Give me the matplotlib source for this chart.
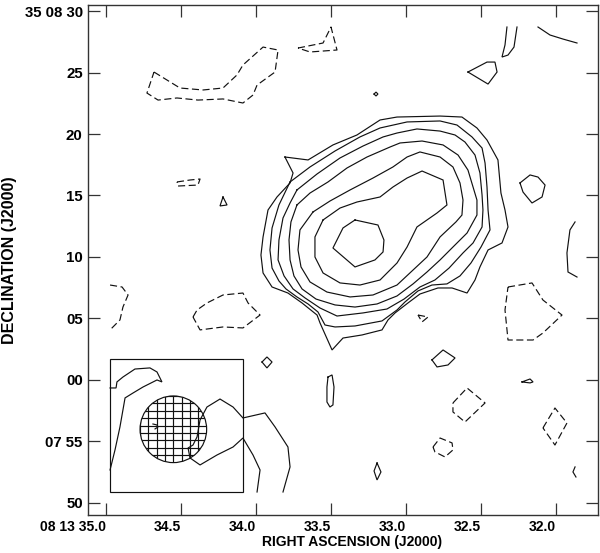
import numpy as np
import matplotlib
matplotlib.use("Agg")
from matplotlib import pyplot as plt
from matplotlib.patches import Ellipse, Rectangle

# RA in seconds of 08 13 xx, Dec in arcsec offset from +08 00 00

# source contours, outermost level first
L1_ra = [33.807, 33.653, 33.487, 33.327, 33.173, 33.060, 32.773, 32.627, 32.527, 32.460,
         32.387, 32.367, 32.340, 32.320, 32.360, 32.453, 32.507, 32.540, 32.593, 32.693,
         32.787, 32.907, 32.987, 33.073, 33.120, 33.160, 33.293, 33.420, 33.493, 33.573,
         33.593, 33.693, 33.787, 33.893, 33.953, 33.967, 33.953, 33.920, 33.860, 33.773,
         33.753]
L1_dec = [18.13, 17.89, 19.11, 19.92, 21.14, 21.38, 21.46, 21.38, 20.49, 19.51,
          17.89, 15.20, 13.82, 12.44, 11.14, 10.57, 9.19, 8.13, 7.07, 7.48,
          7.48, 6.99, 6.26, 5.45, 4.88, 4.07, 3.66, 3.41, 2.44, 4.63,
          5.28, 6.26, 7.07, 7.56, 8.70, 10.16, 11.63, 13.82, 14.88, 16.02,
          16.83]

L2_ra = [33.773, 33.640, 33.473, 33.307, 33.173, 32.993, 32.773, 32.660, 32.560, 32.493,
         32.473, 32.460, 32.453, 32.440, 32.500, 32.567, 32.640, 32.727, 32.827, 32.920,
         33.007, 33.060, 33.160, 33.340, 33.473, 33.540, 33.587, 33.653, 33.727, 33.800,
         33.847, 33.893, 33.907, 33.893, 33.847]
L2_dec = [16.10, 17.32, 18.62, 19.76, 20.49, 20.98, 21.06, 20.73, 19.76, 18.86,
          17.64, 15.69, 13.82, 12.20, 10.81, 9.51, 8.46, 7.81, 7.72, 7.24,
          6.34, 5.69, 4.80, 4.39, 4.31, 4.47, 5.53, 6.18, 6.75, 7.40,
          8.05, 9.10, 10.57, 12.36, 14.23]

L3_ra = [33.727, 33.593, 33.440, 33.287, 33.153, 33.060, 32.927, 32.773, 32.673, 32.607,
         32.540, 32.507, 32.493, 32.487, 32.493, 32.553, 32.620, 32.713, 32.807, 32.907,
         33.013, 33.127, 33.287, 33.460, 33.573, 33.673, 33.753, 33.813, 33.853, 33.847,
         33.820, 33.773]
L3_dec = [15.45, 16.75, 18.05, 19.02, 19.76, 20.08, 20.41, 20.24, 19.92, 19.35,
          18.29, 16.83, 15.04, 13.82, 12.44, 11.14, 10.33, 9.10, 8.13, 7.56,
          6.58, 5.77, 5.45, 5.20, 5.85, 6.67, 7.40, 8.46, 9.76, 11.38,
          13.17, 14.39]

L4_ra = [33.727, 33.640, 33.520, 33.393, 33.260, 33.107, 33.040, 32.893, 32.753, 32.653,
         32.587, 32.553, 32.527, 32.527, 32.593, 32.687, 32.773, 32.860, 32.953, 33.060,
         33.193, 33.340, 33.473, 33.600, 33.693, 33.747, 33.773, 33.780, 33.767]
L4_dec = [14.23, 15.20, 16.10, 17.24, 18.13, 18.94, 19.27, 19.43, 19.11, 18.29,
          17.07, 15.69, 14.63, 13.41, 11.95, 10.81, 9.76, 8.78, 7.81, 6.83,
          6.18, 5.93, 6.10, 6.58, 7.40, 8.46, 9.76, 11.38, 12.85]

L5_ra = [33.620, 33.507, 33.373, 33.220, 33.087, 32.993, 32.907, 32.773, 32.687, 32.640,
         32.620, 32.627, 32.667, 32.773, 32.860, 32.953, 33.060, 33.220, 33.373, 33.527,
         33.640, 33.700, 33.720, 33.707]
L5_dec = [13.66, 14.55, 15.45, 16.42, 17.32, 18.13, 18.54, 18.13, 17.32, 16.02,
          14.63, 13.41, 12.85, 11.63, 10.00, 8.94, 7.72, 6.91, 6.75, 7.15,
          7.97, 9.19, 10.57, 12.20]

L6_ra = [33.553, 33.440, 33.327, 33.173, 33.087, 32.993, 32.893, 32.753, 32.727, 32.793,
         32.927, 32.993, 33.060, 33.173, 33.307, 33.440, 33.553, 33.607, 33.607]
L6_dec = [13.01, 13.98, 14.47, 14.88, 15.69, 16.42, 16.99, 16.26, 14.23, 13.58,
          12.44, 10.81, 9.51, 8.13, 7.72, 7.89, 8.70, 10.00, 11.63]

L7_ra = [33.340, 33.187, 33.147, 33.153, 33.207, 33.340, 33.487, 33.420]
L7_dec = [13.01, 12.60, 11.38, 10.41, 9.76, 9.19, 10.73, 12.36]

# weak positive (solid) noise contours: (ra, dec, closed)
pos_noise = [
    ([32.327, 32.340, 32.360, 32.320, 32.280, 32.260], [28.70, 27.24, 26.26, 26.42, 27.07, 28.70], False),
    ([32.120, 32.040, 31.953, 31.860], [28.70, 28.05, 27.72, 27.40], False),
    ([32.587, 32.460, 32.407, 32.393, 32.453], [25.04, 25.85, 25.85, 25.04, 24.06], True),
    ([33.213, 33.200, 33.187, 33.200], [23.25, 23.41, 23.25, 23.09], True),
    ([34.220, 34.240, 34.193], [14.88, 14.15, 14.23], True),
    ([32.240, 32.173, 32.120, 32.073, 32.093, 32.160, 32.220], [16.02, 16.67, 16.50, 15.85, 14.88, 14.39, 15.28], True),
    ([31.873, 31.907, 31.927, 31.920, 31.860], [12.85, 12.20, 10.33, 8.78, 8.37], False),
    ([33.960, 33.927, 33.893, 33.927], [1.46, 1.87, 1.46, 0.98], True),
    ([32.827, 32.753, 32.673, 32.720, 32.793], [1.63, 2.44, 1.79, 1.22, 1.06], True),
    ([33.520, 33.493, 33.480, 33.487, 33.507, 33.527, 33.527], [0.24, 0.41, -0.57, -2.03, -2.20, -1.79, -0.57], True),
    ([32.227, 32.173, 32.153, 32.173], [-0.16, 0.08, -0.16, -0.24], True),
    ([33.193, 33.167, 33.193, 33.213], [-6.75, -7.48, -8.13, -7.40], True),
    ([31.873, 31.887, 31.867], [-7.07, -7.48, -7.89], False),
    ([34.973, 34.940, 34.907, 34.873, 34.820, 34.753, 34.660, 34.627, 34.660, 34.707,
      34.807, 34.887, 34.927, 34.933, 34.973],
     [-7.32, -5.69, -3.82, -1.46, -1.06, -0.57, 0.00, -0.16, 0.65, 0.98,
      0.89, 0.24, -0.16, -0.65, -0.65], False),
    ([33.820, 33.773, 33.787, 33.873, 33.940, 34.087, 34.153, 34.240, 34.327, 34.373,
      34.393, 34.420, 34.453, 34.440, 34.373, 34.260, 34.153, 34.087, 34.020, 33.973,
      33.993],
     [-9.11, -7.07, -5.45, -3.82, -2.68, -3.09, -2.20, -1.55, -2.20, -3.25,
      -4.63, -5.29, -5.53, -6.34, -6.91, -6.10, -5.45, -4.72, -6.10, -7.32,
      -9.11], False),
    ([34.687, 34.660, 34.653, 34.673], [-3.58, -3.66, -3.82, -3.98], False),
]

# negative (dashed) contours
neg_noise = [
    ([34.680, 34.507, 34.353, 34.220, 34.127, 34.087, 33.953, 33.853, 33.873, 33.993,
      34.020, 34.087, 34.220, 34.387, 34.527, 34.653, 34.727],
     [25.04, 23.74, 23.58, 23.74, 24.80, 25.61, 27.07, 26.83, 25.04, 23.98,
      23.17, 22.52, 22.85, 22.76, 22.93, 22.76, 23.33], True),
    ([33.720, 33.553, 33.500, 33.460, 33.640], [26.99, 27.40, 28.70, 26.83, 26.67], True),
    ([34.527, 34.440, 34.373, 34.387, 34.520], [16.10, 16.26, 16.34, 15.85, 15.77], True),
    ([34.973, 34.893, 34.853, 34.887, 34.907, 34.973], [7.72, 7.56, 6.91, 5.93, 4.88, 4.07], False),
    ([34.420, 34.393, 34.327, 34.220, 34.087, 34.053, 33.973, 34.087, 34.220, 34.373],
     [5.12, 5.69, 6.26, 6.91, 7.07, 6.26, 5.28, 4.23, 4.31, 4.07], True),
    ([32.920, 32.853, 32.893], [5.28, 5.12, 4.72], True),
    ([32.320, 32.160, 32.087, 31.960, 32.087, 32.153, 32.320, 32.340],
     [7.56, 7.89, 6.50, 5.28, 3.82, 3.25, 3.25, 5.69], True),
    ([32.687, 32.593, 32.473, 32.607, 32.687], [-1.87, -0.65, -1.87, -3.42, -2.60], True),
    ([32.820, 32.773, 32.693, 32.687, 32.740, 32.807], [-5.45, -4.72, -5.12, -5.69, -6.26, -5.85], True),
    ([32.087, 32.007, 31.927, 32.007], [-3.90, -2.28, -3.50, -5.29], True),
]

# restoring beam and the box it sits in
beam_ra, beam_dec = 34.551, -4.01
beam_w, beam_h = 0.444, 5.42
box_ra = [34.973, 34.087]
box_dec = [-9.11, 1.71]

xticks = [35.0, 34.5, 34.0, 33.5, 33.0, 32.5, 32.0]
xlabels = ['08 13 35.0', '34.5', '34.0', '33.5', '33.0', '32.5', '32.0']
yticks = [30, 25, 20, 15, 10, 5, 0, -5, -10]
ylabels = ['35 08 30', '25', '20', '15', '10', '05', '00', '07 55', '50']

plt.rcParams['font.family'] = ['Liberation Sans', 'DejaVu Sans']
plt.rcParams['font.weight'] = 'bold'

LW = 0.85
DASH = (0, (6, 3))
INK = '#111111'


def draw(ax, ra, dec, closed=True, dashed=False):
    ra = list(ra)
    dec = list(dec)
    if closed:
        ra.append(ra[0])
        dec.append(dec[0])
    ax.plot(ra, dec, color=INK, lw=LW, ls=DASH if dashed else '-',
            solid_joinstyle='miter')


fig = plt.figure(figsize=(6.0, 5.53), dpi=100)
ax = fig.add_axes([88 / 600, 1 - 515 / 553, 510 / 600, 510 / 553])

for ra, dec in [(L1_ra, L1_dec), (L2_ra, L2_dec), (L3_ra, L3_dec), (L4_ra, L4_dec),
                (L5_ra, L5_dec), (L6_ra, L6_dec), (L7_ra, L7_dec)]:
    draw(ax, ra, dec)
for ra, dec, closed in pos_noise:
    draw(ax, ra, dec, closed)
for ra, dec, closed in neg_noise:
    draw(ax, ra, dec, closed, dashed=True)

# beam box
ax.add_patch(Rectangle((box_ra[0], box_dec[0]), box_ra[1] - box_ra[0],
                       box_dec[1] - box_dec[0], fill=False, ec=INK, lw=LW))

# hatched beam
beam = Ellipse((beam_ra, beam_dec), beam_w, beam_h, fill=False, ec=INK, lw=LW)
ax.add_patch(beam)
step_ra = beam_w / 8.0
step_dec = beam_h / 9.0
for k in range(-5, 6):
    ln, = ax.plot([beam_ra + k * step_ra] * 2,
                  [beam_dec - beam_h, beam_dec + beam_h], color=INK, lw=LW)
    ln.set_clip_path(beam)
    ln, = ax.plot([beam_ra - beam_w, beam_ra + beam_w],
                  [beam_dec + (k + 0.5) * step_dec] * 2, color=INK, lw=LW)
    ln.set_clip_path(beam)

ax.set_xlim(35.12, 31.72)
ax.set_ylim(-10.98, 30.49)

ax.set_xticks(xticks, xlabels)
ax.set_yticks(yticks, ylabels)
for lab in ax.get_xticklabels():
    lab.set_horizontalalignment('right')
ax.tick_params(direction='in', top=True, right=True, length=8.5, width=0.9,
               color='#333333', pad=3.8)
ax.tick_params(axis='x', labelsize=10)
ax.tick_params(axis='y', labelsize=10.8)
for sp in ax.spines.values():
    sp.set_linewidth(1.0)
    sp.set_color('#333333')

ax.set_xlabel('RIGHT ASCENSION (J2000)', fontsize=10, fontweight='bold')
ax.set_ylabel('DECLINATION (J2000)', fontsize=11.5, fontweight='bold')
ax.xaxis.set_label_coords(0.5186, -0.040)
ax.yaxis.set_label_coords(-0.139, 0.5)

fig.savefig('out.png', dpi=100)
